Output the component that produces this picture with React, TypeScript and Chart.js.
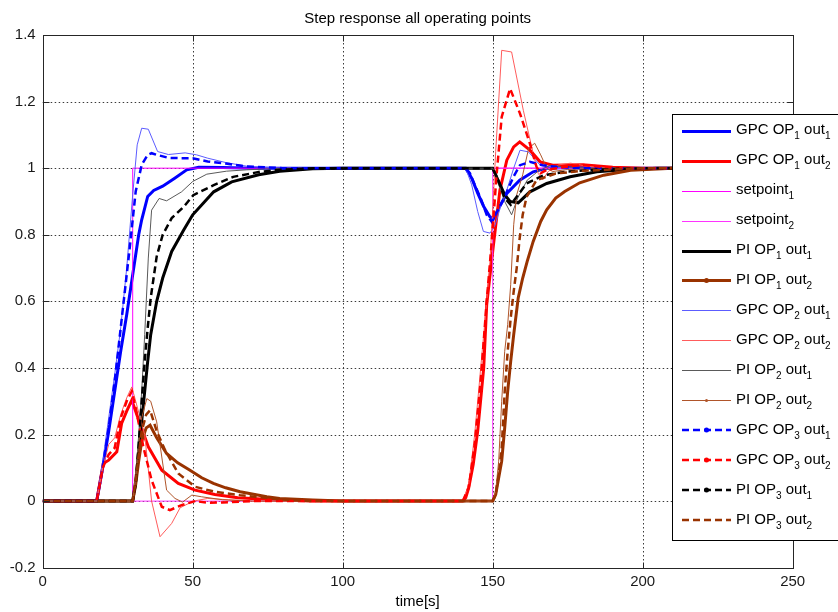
import { useEffect, useRef } from 'react';
import { Chart, registerables } from 'chart.js';

Chart.register(...registerables);

const TITLE = 'Step response all operating points';
const X_LABEL = 'time[s]';
const X_TICKS = [0, 50, 100, 150, 200, 250];
const Y_TICKS = [-0.2, 0, 0.2, 0.4, 0.6, 0.8, 1, 1.2, 1.4];

// [time, value] pairs
const gpcOp1Out1 = [[0,0],[18,0],[20,0.1],[22,0.21],[24,0.33],[26,0.45],[28,0.56],[30,0.68],[31,0.74],[32,0.8],[33,0.845],[35,0.915],[37,0.933],[40,0.946],[44,0.97],[48,0.995],[52,1.003],[60,1.002],[70,1.0],[141,1.0],[143,0.97],[145,0.925],[147,0.885],[149,0.855],[150.2,0.847],[152,0.88],[154.7,0.924],[159,0.964],[163.5,0.989],[168,1.0],[175,1.002],[190,1.0],[250,1.0]];
const gpcOp1Out2 = [[0,0],[18,0],[20.2,0.113],[22,0.123],[24.7,0.148],[26.3,0.233],[28,0.27],[29.7,0.303],[32.4,0.233],[35.2,0.163],[39.7,0.093],[45.2,0.053],[50.8,0.033],[57.4,0.02],[65,0.01],[79,0.003],[90,0],[140,0],[141,0.01],[142,0.04],[143.5,0.11],[145,0.21],[147,0.4],[148,0.59],[150,0.75],[152.4,0.934],[154.7,1.024],[157,1.064],[159,1.079],[162.4,1.054],[165.8,1.019],[170,1.009],[180,1.01],[190,1.003],[200,1],[250,1]];
const setpoint1 = [[0,0],[30,0],[30,1],[250,1]];
const setpoint2 = [[0,0],[150,0],[150,1],[250,1]];
const piOp1Out1 = [[0,0],[30,0],[31,0.06],[32,0.15],[33,0.24],[34,0.33],[35,0.42],[36,0.5],[38,0.6],[40,0.67],[43,0.75],[47,0.814],[50,0.86],[57,0.929],[63,0.959],[72,0.98],[79,0.991],[90,0.998],[100,1.0],[150,1.0],[152,0.96],[154,0.92],[155.8,0.9],[158.5,0.896],[162.4,0.929],[168,0.954],[175.8,0.974],[184.7,0.989],[193.5,0.995],[205,1.0],[250,1]];
const piOp1Out2 = [[0,0],[30,0],[31,0.05],[32,0.12],[33,0.18],[34.5,0.22],[35.8,0.228],[38,0.19],[41.3,0.143],[45,0.115],[49.1,0.093],[53,0.07],[56.9,0.053],[61,0.04],[65.8,0.028],[74.7,0.013],[79,0.008],[90,0.003],[100,0],[150,0],[151,0.02],[152,0.07],[153,0.12],[154,0.22],[155,0.33],[156,0.42],[157,0.5],[158.5,0.61],[160,0.67],[161.5,0.72],[163.5,0.78],[166,0.84],[168,0.875],[171,0.91],[174,0.93],[179,0.956],[187,0.979],[196,0.994],[210,1.0],[250,1]];
const gpcOp2Out1 = [[0,0],[18,0],[20,0.12],[22,0.25],[24,0.38],[26,0.52],[28,0.7],[30,0.92],[31.5,1.07],[33,1.12],[35.2,1.117],[38.3,1.05],[41.9,1.041],[47.5,1.046],[51.3,1.04],[55,1.03],[61,1.017],[68,1.006],[80,1.0],[141,1.0],[143,0.95],[145,0.87],[146.9,0.81],[149.1,0.805],[150.8,0.829],[152.5,0.88],[154.7,0.934],[157,1.0],[159.1,1.054],[161.9,1.049],[165.8,1.009],[170,1.003],[180,1.0],[250,1]];
const gpcOp2Out2 = [[0,0],[18,0],[20,0.1],[22,0.17],[24,0.19],[26,0.26],[28,0.31],[29.7,0.343],[31,0.3],[34,0.2],[36.3,0.0],[39.1,-0.107],[43,-0.067],[45.8,-0.02],[50.2,0],[55,0.008],[62,0.004],[70,0],[140,0],[142,0.05],[144,0.2],[146,0.4],[148,0.6],[149.1,0.72],[151,1.05],[153,1.354],[156.3,1.349],[160.2,1.174],[163.5,1.044],[165.2,0.984],[166.7,0.965],[168.5,0.99],[172,1.01],[176,1.015],[182,1.005],[190,1.0],[250,1]];
const piOp2Out1 = [[0,0],[30,0],[31,0.07],[32,0.2],[33,0.33],[34,0.5],[35.2,0.73],[36.3,0.874],[38.8,0.909],[41.3,0.902],[46.3,0.929],[50,0.96],[54.7,0.982],[61.3,0.991],[68,0.995],[80,1.0],[150,1],[152,0.95],[154,0.9],[156.3,0.86],[158.5,0.914],[161.5,0.964],[165,0.99],[169,1.008],[175,1.003],[185,1.0],[250,1]];
const piOp2Out2 = [[0,0],[30,0],[31,0.08],[32,0.17],[33,0.25],[34.7,0.308],[36,0.3],[38,0.238],[41.3,0.033],[44.1,0.008],[46.6,-0.003],[49.7,0.018],[53,0.013],[60,0.004],[70,0],[150,0],[151,0.03],[152,0.12],[153,0.3],[154,0.45],[155,0.53],[156,0.65],[157,0.83],[158,0.92],[160,0.98],[162,1.06],[164,1.075],[166,1.04],[168,1.0],[170,0.99],[175,0.996],[185,1.0],[250,1]];
const gpcOp3Out1 = [[0,0],[18,0],[20,0.1],[22,0.22],[24,0.36],[27,0.6],[29,0.76],[31,0.93],[33,1.01],[35,1.04],[36.3,1.045],[38,1.04],[42,1.031],[46,1.03],[50,1.03],[55,1.02],[61,1.014],[68,1.005],[80,1.0],[141,1.0],[142.4,0.985],[144,0.95],[145.8,0.914],[148,0.86],[149.7,0.839],[151.5,0.87],[153.5,0.904],[156.9,0.974],[159.1,1.009],[162.4,1.019],[166.6,1.009],[172,1.003],[180,1.0],[250,1]];
const gpcOp3Out2 = [[0,0],[18,0],[20,0.1],[22,0.14],[24,0.16],[26,0.25],[28,0.3],[29.7,0.33],[31,0.28],[33.5,0.165],[36.3,0.063],[39.7,-0.017],[42.4,-0.027],[46.3,-0.012],[50.8,0],[55,-0.005],[60,-0.004],[70,0],[140,0],[142,0.04],[144,0.17],[146,0.36],[148,0.6],[149.5,0.76],[151.3,0.98],[153,1.154],[155.8,1.239],[159.1,1.164],[162.4,1.074],[164.6,1.004],[166,0.985],[168,0.995],[175,1.005],[180,1.01],[190,1.0],[250,1]];
const piOp3Out1 = [[0,0],[30,0],[31,0.05],[32,0.17],[33,0.3],[34,0.42],[35,0.52],[36,0.61],[38,0.735],[40,0.8],[43,0.85],[47,0.884],[50.2,0.919],[57,0.949],[63.5,0.974],[72.4,0.989],[79,0.995],[90,1.0],[150,1],[152,0.96],[154,0.91],[156,0.89],[158,0.914],[161.3,0.954],[167,0.979],[175,0.99],[185,0.996],[200,1],[250,1]];
const piOp3Out2 = [[0,0],[30,0],[31,0.06],[32,0.14],[33,0.21],[34.5,0.26],[35.8,0.273],[38,0.21],[40.8,0.153],[45.2,0.083],[50.8,0.043],[57.4,0.028],[65.8,0.018],[79,0.005],[90,0],[150,0],[151,0.02],[152,0.08],[153,0.16],[154,0.33],[155,0.45],[156,0.55],[157,0.63],[158,0.7],[159,0.79],[160,0.86],[161.3,0.914],[164.6,0.964],[171,0.984],[180,0.992],[200,1],[250,1]];

// legend label parts: [prefix, sub1, middle, sub2]
const SERIES = [
  { name: ['GPC OP', '1', ' out', '1'], data: gpcOp1Out1, color: '#0000ff', width: 3, dash: [], dot: 0 },
  { name: ['GPC OP', '1', ' out', '2'], data: gpcOp1Out2, color: '#ff0000', width: 3, dash: [], dot: 0 },
  { name: ['setpoint', '1', '', ''], data: setpoint1, color: '#ff00ff', width: 1, dash: [], dot: 0 },
  { name: ['setpoint', '2', '', ''], data: setpoint2, color: '#ff33ff', width: 1, dash: [], dot: 0 },
  { name: ['PI OP', '1', ' out', '1'], data: piOp1Out1, color: '#000000', width: 3, dash: [], dot: 0 },
  { name: ['PI OP', '1', ' out', '2'], data: piOp1Out2, color: '#993300', width: 3, dash: [], dot: 2.5 },
  { name: ['GPC OP', '2', ' out', '1'], data: gpcOp2Out1, color: '#5c5cff', width: 1, dash: [], dot: 0 },
  { name: ['GPC OP', '2', ' out', '2'], data: gpcOp2Out2, color: '#ff5c5c', width: 1, dash: [], dot: 0 },
  { name: ['PI OP', '2', ' out', '1'], data: piOp2Out1, color: '#5a5a5a', width: 1, dash: [], dot: 0 },
  { name: ['PI OP', '2', ' out', '2'], data: piOp2Out2, color: '#b0552a', width: 1, dash: [], dot: 1.5 },
  { name: ['GPC OP', '3', ' out', '1'], data: gpcOp3Out1, color: '#0000ff', width: 2.5, dash: [7, 4], dot: 2.5 },
  { name: ['GPC OP', '3', ' out', '2'], data: gpcOp3Out2, color: '#ff0000', width: 2.5, dash: [7, 4], dot: 2.5 },
  { name: ['PI OP', '3', ' out', '1'], data: piOp3Out1, color: '#000000', width: 2.5, dash: [7, 4], dot: 2.5 },
  { name: ['PI OP', '3', ' out', '2'], data: piOp3Out2, color: '#993300', width: 2.5, dash: [7, 4], dot: 0 },
];

const FONT = '"Liberation Sans", Arial, Helvetica, sans-serif';

const decorPlugin = {
  id: 'decor',
  beforeDatasetsDraw(chart: any) {
    const { ctx, chartArea: a, scales } = chart;
    ctx.save();
    ctx.strokeStyle = '#3a3a3a';
    ctx.lineWidth = 1;
    ctx.setLineDash([1.5, 2.5]);
    X_TICKS.forEach((t) => {
      if (t === 0 || t === 250) return;
      const x = Math.round(scales.x.getPixelForValue(t)) + 0.5;
      ctx.beginPath(); ctx.moveTo(x, a.top); ctx.lineTo(x, a.bottom); ctx.stroke();
    });
    Y_TICKS.forEach((v) => {
      if (v === -0.2 || v === 1.4) return;
      const y = Math.round(scales.y.getPixelForValue(v)) + 0.5;
      ctx.beginPath(); ctx.moveTo(a.left, y); ctx.lineTo(a.right, y); ctx.stroke();
    });
    ctx.restore();
  },
  afterDatasetsDraw(chart: any) {
    const { ctx, chartArea: a, scales } = chart;
    ctx.save();
    ctx.setLineDash([]);
    ctx.strokeStyle = '#262626';
    ctx.lineWidth = 1;
    const L = Math.round(a.left) + 0.5, R = Math.round(a.right) + 0.5;
    const T = Math.round(a.top) + 0.5, B = Math.round(a.bottom) + 0.5;
    ctx.strokeRect(L, T, R - L, B - T);
    const tl = 6;
    X_TICKS.forEach((t) => {
      const x = Math.round(scales.x.getPixelForValue(t)) + 0.5;
      ctx.beginPath(); ctx.moveTo(x, B); ctx.lineTo(x, B - tl); ctx.moveTo(x, T); ctx.lineTo(x, T + tl); ctx.stroke();
    });
    Y_TICKS.forEach((v) => {
      const y = Math.round(scales.y.getPixelForValue(v)) + 0.5;
      ctx.beginPath(); ctx.moveTo(L, y); ctx.lineTo(L + tl, y); ctx.moveTo(R, y); ctx.lineTo(R - tl, y); ctx.stroke();
    });

    // title and axis label
    ctx.fillStyle = '#000';
    ctx.textAlign = 'center';
    ctx.textBaseline = 'alphabetic';
    ctx.font = `15px ${FONT}`;
    const cx = (a.left + a.right) / 2;
    ctx.fillText(TITLE, cx, 23);
    ctx.fillText(X_LABEL, cx, 606);

    // legend
    const bx = 672.5, by = 114.5, bw = 220, bh = 426;
    ctx.fillStyle = '#fff';
    ctx.fillRect(bx, by, bw, bh);
    ctx.strokeStyle = '#000';
    ctx.strokeRect(bx, by, bw, bh);
    ctx.textAlign = 'left';
    SERIES.forEach((s, i) => {
      const yc = 130.7 + i * 29.95;
      const yl = Math.round(yc) + (s.width % 2 === 1 ? 0.5 : 0);
      ctx.strokeStyle = s.color;
      ctx.lineWidth = s.width;
      ctx.setLineDash(s.dash);
      ctx.beginPath(); ctx.moveTo(682, yl); ctx.lineTo(731, yl); ctx.stroke();
      ctx.setLineDash([]);
      if (s.dot > 0) {
        ctx.fillStyle = s.color;
        ctx.beginPath(); ctx.arc(706.5, yl, s.dot, 0, Math.PI * 2); ctx.fill();
      }
      ctx.fillStyle = '#000';
      let x = 736;
      const base = yc + 3.5;
      const parts = s.name;
      parts.forEach((p, k) => {
        if (!p) return;
        const sub = k % 2 === 1;
        ctx.font = sub ? `10px ${FONT}` : `15px ${FONT}`;
        ctx.fillText(p, x, sub ? base + 5 : base);
        x += ctx.measureText(p).width;
      });
    });
    ctx.restore();
  },
};

export default function App() {
  const ref = useRef<HTMLCanvasElement | null>(null);
  useEffect(() => {
    if (!ref.current) return;
    const chart = new Chart(ref.current, {
      type: 'line',
      data: {
        datasets: SERIES.map((s, i) => ({
          label: s.name.join(''),
          data: s.data.map(([x, y]) => ({ x, y })),
          borderColor: s.color,
          backgroundColor: s.color,
          borderWidth: s.width,
          borderDash: s.dash,
          pointRadius: 0,
          fill: false,
          tension: 0,
          order: -i,
        })),
      },
      options: {
        animation: false,
        responsive: true,
        maintainAspectRatio: false,
        layout: { padding: { top: 35, right: 45.3, left: 0, bottom: 0 } },
        plugins: { legend: { display: false }, title: { display: false }, tooltip: { enabled: false } },
        scales: {
          x: {
            type: 'linear',
            min: 0,
            max: 250,
            afterBuildTicks: (scale: any) => { scale.ticks = X_TICKS.map((v) => ({ value: v })); },
            afterFit: (scale: any) => { scale.height = 44.3; },
            grid: { display: false, drawTicks: false },
            border: { display: false },
            ticks: { color: '#1a1a1a', font: { family: FONT, size: 15 }, padding: 5, maxRotation: 0, callback: (v: any) => String(v) },
          },
          y: {
            type: 'linear',
            min: -0.2,
            max: 1.4,
            afterBuildTicks: (scale: any) => { scale.ticks = Y_TICKS.map((v) => ({ value: v })); },
            afterFit: (scale: any) => { scale.width = 42.7; },
            grid: { display: false, drawTicks: false },
            border: { display: false },
            ticks: { color: '#1a1a1a', font: { family: FONT, size: 15 }, padding: 7, callback: (v: any) => String(parseFloat(Number(v).toFixed(1))) },
          },
        },
      },
      plugins: [decorPlugin],
    });
    return () => chart.destroy();
  }, []);
  return (
    <div style={{ position: 'fixed', left: 0, top: 0, width: 838, height: 612, background: '#fff' }}>
      <canvas ref={ref} />
    </div>
  );
}
